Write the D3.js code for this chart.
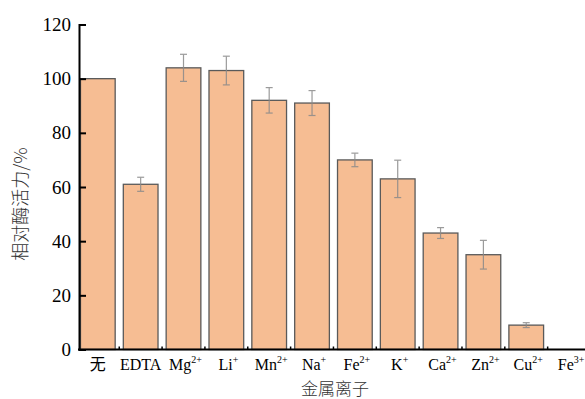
<!DOCTYPE html>
<html><head><meta charset="utf-8">
<script src="https://cdn.jsdelivr.net/npm/d3@7/dist/d3.min.js"></script>
<style>body{margin:0;background:#fff}</style>
</head><body>
<svg id="c" width="585" height="399"></svg>
<script>
const categories = ["无","EDTA","Mg","Li","Mn","Na","Fe","K","Ca","Zn","Cu","Fe"];
const superscripts = ["","","2+","+","2+","+","2+","+","2+","2+","2+","3+"];
const values = [100,61,104,103,92,91,70,63,43,35,9,0];
const errors = [0,2.6,5,5.3,4.7,4.6,2.5,6.9,2,5.3,0.9,0];
const yTicks = [0,20,40,60,80,100,120];

const svg = d3.select("#c");
const x = d3.scaleBand().domain(d3.range(categories.length)).range([76.4, 590.5]).paddingInner(0.19).paddingOuter(0.095);
const y = d3.scaleLinear().domain([0,120]).range([349.5,24.5]);

// bars
svg.selectAll("rect.bar").data(values).enter().append("rect")
  .attr("x",(d,i)=>x(i)).attr("width",x.bandwidth())
  .attr("y",d=>y(d)).attr("height",d=>y(0)-y(d))
  .attr("fill","#F6BD93").attr("stroke","#5a5a5a").attr("stroke-width",1.3)
  .attr("display",d=>d>0?null:"none");

// error bars
const eg = svg.append("g").attr("stroke","#8a8a8a").attr("stroke-width",1.2).attr("opacity",0.85);
values.forEach((v,i)=>{
  if(errors[i]<=0) return;
  const cx = x(i)+x.bandwidth()/2;
  eg.append("line").attr("x1",cx).attr("x2",cx).attr("y1",y(v+errors[i])).attr("y2",y(v-errors[i]));
  [v+errors[i], v-errors[i]].forEach(e=>{
    eg.append("line").attr("x1",cx-3.5).attr("x2",cx+3.5).attr("y1",y(e)).attr("y2",y(e));
  });
});

// y axis
const yAxis = svg.append("g").attr("transform","translate(79,0)")
  .call(d3.axisLeft(y).tickValues(yTicks).tickSize(-7).tickPadding(8))
  .attr("font-family","'Liberation Serif','Times New Roman',serif").attr("font-size",19);
yAxis.select(".domain").attr("stroke","#000").attr("stroke-width",2);
yAxis.selectAll(".tick line").attr("stroke","#000").attr("stroke-width",2);
yAxis.selectAll(".tick text").style("font-family","'Liberation Serif','Times New Roman',serif").attr("font-size",19).attr("fill","#000");

// x axis line and small ticks at band boundaries
svg.append("line").attr("x1",78).attr("x2",585).attr("y1",y(0)).attr("y2",y(0)).attr("stroke","#000").attr("stroke-width",2);
const bounds = d3.range(1,categories.length).map(i=>x(i)-x.step()*x.paddingInner()/2);
svg.selectAll("line.xt").data(bounds).enter().append("line")
  .attr("x1",d=>d).attr("x2",d=>d).attr("y1",y(0)).attr("y2",y(0)-3)
  .attr("stroke","#000").attr("stroke-width",1.5);

// category labels
const labels = svg.selectAll("text.cat").data(categories).enter().append("text")
  .attr("x",(d,i)=>x(i)+x.bandwidth()/2 + (superscripts[i]?2:0))
  .attr("y",370).attr("text-anchor","middle")
  .attr("font-size",16).attr("fill","#000")
  .style("font-family",(d,i)=>i===0?"'Noto Sans CJK SC', sans-serif":"'Liberation Serif','Times New Roman',serif");
labels.each(function(d,i){
  const t = d3.select(this);
  t.append("tspan").text(d);
  if(superscripts[i]) t.append("tspan").attr("font-size",10).attr("dy",-7).text(superscripts[i]);
});

// axis titles
svg.append("text").attr("transform","translate(27,204) rotate(-90)")
  .attr("text-anchor","middle").attr("font-size",18).attr("font-weight",300)
  .style("font-family","'Noto Sans CJK SC', sans-serif").attr("fill","#333").text("相对酶活力/%");
svg.append("text").attr("x",335).attr("y",395).attr("text-anchor","middle")
  .attr("font-size",17).attr("font-weight",300)
  .style("font-family","'Noto Sans CJK SC', sans-serif").attr("fill","#333").text("金属离子");
</script>
</body></html>
